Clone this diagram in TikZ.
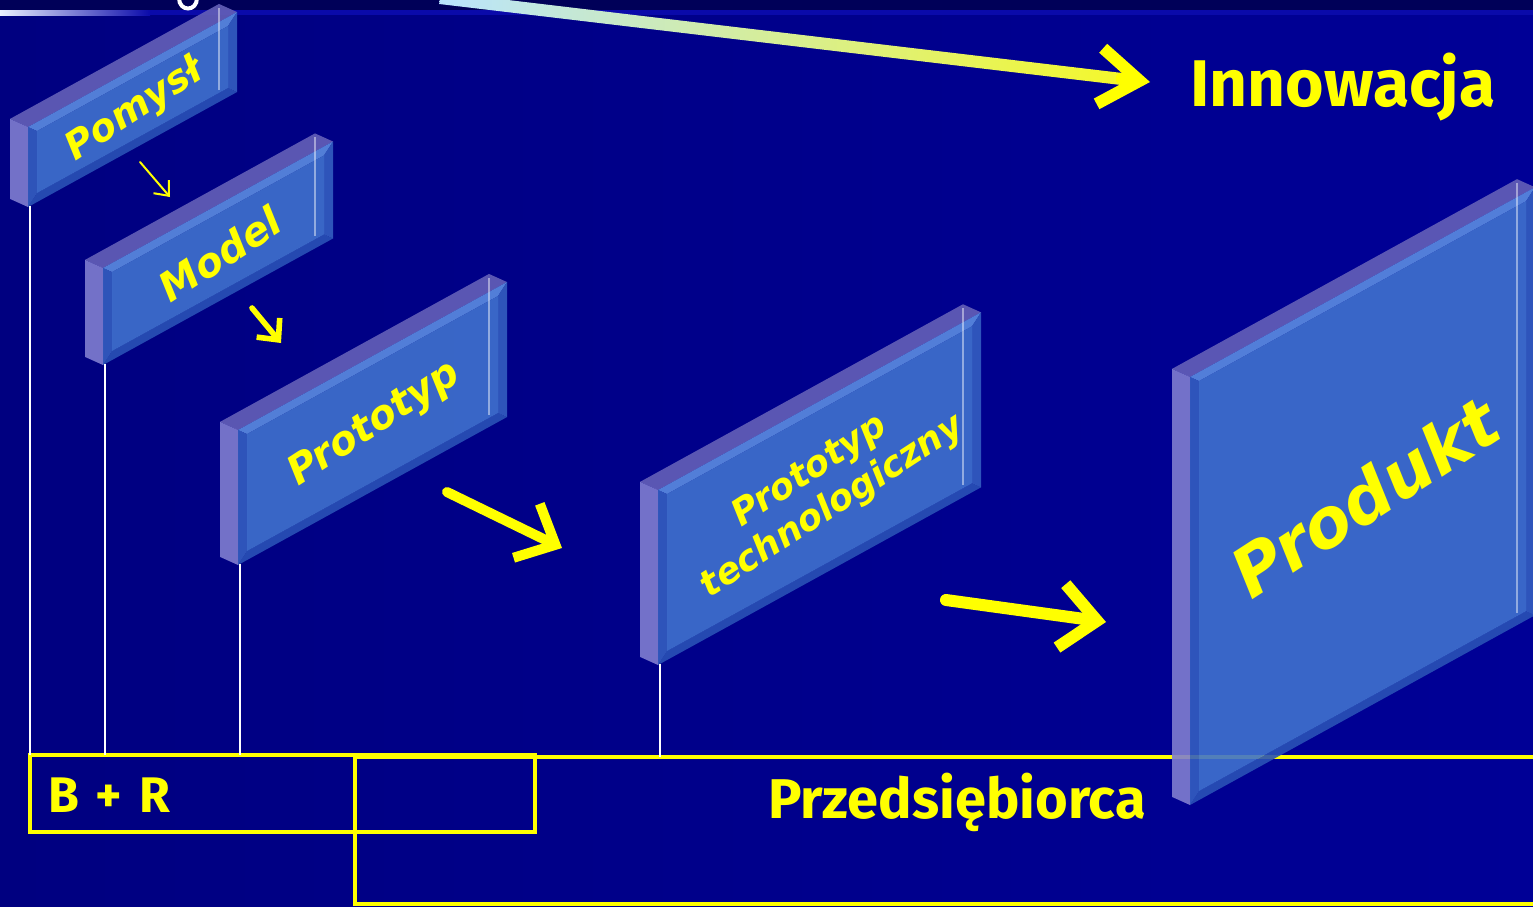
\documentclass[tikz,border=0pt]{standalone}
\usepackage{fontspec}
\setmainfont{DejaVu Sans}
\newfontfamily\handfont{Fira Sans}
\usetikzlibrary{arrows.meta}
\usetikzlibrary{calc}

\definecolor{slidebg}{RGB}{0,0,128}
\definecolor{slidebgr}{RGB}{0,0,150}
\definecolor{topband}{RGB}{0,0,88}
\definecolor{bandline}{RGB}{10,10,170}
\definecolor{signyellow}{RGB}{255,255,0}
\definecolor{slabtop}{RGB}{100,96,184}
\definecolor{slabside}{RGB}{128,126,208}
\definecolor{slabfront}{RGB}{64,114,206}
\definecolor{bevelhi}{RGB}{92,140,225}
\definecolor{bevello}{RGB}{42,82,182}
\definecolor{bevelmid}{RGB}{52,94,192}

% slab: name, x, bottom y, width, height, font size, label
\newcommand{\slab}[7]{%
  \begin{scope}[shift={(#2,#3)}, yslant=0.55, fill opacity=0.9]
    \fill[slabtop] (0,-#5) -- (#4,-#5) -- (#4-18,-#5-18) -- (-18,-#5-18) -- cycle;
    \fill[slabside] (0,0) -- (0,-#5) -- (-18,-#5-18) -- (-18,-18) -- cycle;
    \fill[bevelhi] (0,-#5) -- (#4,-#5) -- (#4-9,-#5+9) -- (9,-#5+9) -- cycle;
    \fill[bevello] (0,0) -- (#4,0) -- (#4-9,-9) -- (9,-9) -- cycle;
    \fill[bevelmid] (0,0) -- (0,-#5) -- (9,-#5+9) -- (9,-9) -- cycle;
    \fill[bevelmid] (#4,0) -- (#4,-#5) -- (#4-9,-#5+9) -- (#4-9,-9) -- cycle;
    \fill[slabfront] (9,-9) rectangle (#4-9,-#5+9);
    \draw[white, draw opacity=0.45, line width=0.6pt] (#4-18,-#5-14) -- (#4-18,-12);
    \coordinate (#1-foot) at (2,0);
    \coordinate (#1-mid) at (#4/2+2,-#5/2+2);
  \end{scope}
  \node[slabtext, font=\fontsize{#6}{21}\selectfont\bfseries\itshape] (#1) at (#1-mid) {#7};
}

\begin{document}
\begin{tikzpicture}
    [
    x=0.5pt, y=-0.5pt,
    arrow/.style={
        draw=signyellow,
        line cap=round,
        line join=round
    },
    boxline/.style={
        draw=signyellow,
        line width=2pt
    },
    stem/.style={
        draw=white,
        line width=0.8pt
    },
    slabtext/.style={
        text=signyellow,
        rotate=33,
        align=center,
        inner sep=0pt
    },
    caption/.style={
        text=signyellow,
        font=\handfont\bfseries,
        inner sep=0pt
    },
    ]

    \useasboundingbox (0,0) rectangle (1533,906);
    \clip (0,0) rectangle (1533,906);
    \shade[left color=slidebg, right color=slidebgr] (0,0) rectangle (1533,906);

    % top strip of the slide
    \fill[topband] (0,0) rectangle (1533,10);
    \fill[bandline] (0,10) rectangle (1533,15);
    \shade[left color={rgb,255:red,235;green,240;blue,255}, right color=bandline] (0,10) rectangle (150,15);
    \draw[white, line width=2pt, line cap=round] (179,-2) .. controls (179,12) and (197,12) .. (197,-2);

    % boxes at the bottom
    \coordinate (brNW) at (30,755);
    \coordinate (brSE) at (535,832);
    \coordinate (przNW) at (355,757);
    \coordinate (przSE) at (1560,904);
    \draw[boxline] (brNW) rectangle (brSE);
    \draw[boxline] (przNW) rectangle (przSE);

    \slab{pomysl}{28}{207}{209}{80}{19}{Pomysł}
    \slab{model}{103}{365}{230}{97}{20}{Model}
    \slab{proto}{238}{565}{269}{135}{20}{Prototyp}
    \slab{techproto}{658}{665}{323}{175}{18}{Prototyp\\technologiczny}
    \slab{produkt}{1190}{805}{345}{428}{34}{Produkt}

    \draw[stem] (pomysl-foot) -- (pomysl-foot |- brNW);
    \draw[stem] (model-foot) -- (model-foot |- brNW);
    \draw[stem] (proto-foot) -- (proto-foot |- brNW);
    \draw[stem] (techproto-foot) -- (techproto-foot |- przNW);

    % arrows between the stages
    \coordinate (a1s) at (140,162);
    \coordinate (a1e) at (170,197);
    \coordinate (a2s) at (252,308);
    \coordinate (a2e) at (281,343);
    \coordinate (a3s) at (447,492);
    \coordinate (a3e) at (562,548);
    \coordinate (a4s) at (946,600);
    \coordinate (a4e) at (1106,622);
    \draw[arrow, line width=1pt, -{Straight Barb[length=6pt,width=10pt]}] (a1s) -- (a1e);
    \draw[arrow, line width=2.8pt, -{Straight Barb[length=8pt,width=15pt]}] (a2s) -- (a2e);
    \draw[arrow, line width=5pt, -{Straight Barb[length=16pt,width=30pt]}] (a3s) -- (a3e);
    \draw[arrow, line width=6pt, -{Straight Barb[length=18pt,width=32pt]}] (a4s) -- (a4e);

    % long arrow to Innowacja
    \coordinate (inS) at (440,-2);
    \coordinate (inE) at (1150,82);
    \shade[left color={rgb,255:red,185;green,228;blue,255}, middle color={rgb,255:red,205;green,240;blue,215},
        right color={rgb,255:red,245;green,248;blue,40}]
        (440.7,-8) -- (1130.7,74) -- (1129.3,86) -- (439.3,4) -- cycle;
    \draw[arrow, line width=6pt, -{Straight Barb[length=20pt,width=28pt]}] ($(inS)!0.96!(inE)$) -- (inE);

    \node[caption, font=\handfont\bfseries\fontsize{33}{36}\selectfont, anchor=base] (innow) at (1343,106) {Innowacja};
    \node[caption, font=\handfont\bfseries\fontsize{25}{28}\selectfont, anchor=base west] (bandr) at (48,812) {B\,\,+\,\,R};
    \node[caption, font=\handfont\bfseries\fontsize{28}{32}\selectfont, anchor=base] (przed) at (957,818) {Przedsiębiorca};

\end{tikzpicture}
\end{document}
